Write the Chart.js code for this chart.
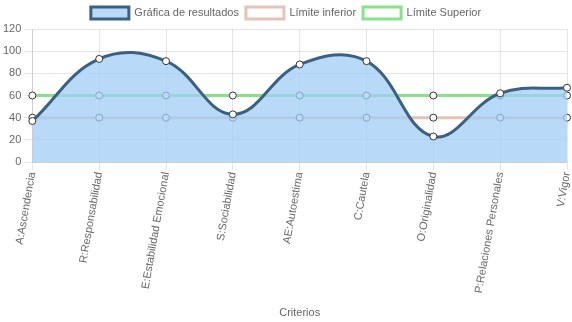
<!DOCTYPE html>
<html>
<head>
<meta charset="utf-8">
<script src="https://cdn.jsdelivr.net/npm/chart.js@4/dist/chart.umd.min.js"></script>
<style>
html,body{margin:0;padding:0;background:#fff;}
#wrap{width:572px;height:322px;}
</style>
</head>
<body>
<div id="wrap"><canvas id="c"></canvas></div>
<script>
const categories = ["A:Ascendencia","R:Responsabilidad","E:Estabilidad Emocional","S:Sociabilidad","AE:Autoestima","C:Cautela","O:Originalidad","P:Relaciones Personales","V:Vigor"];
const resultados = [37, 93, 91, 43, 88, 91, 23, 62, 67];
const limiteInferior = [40, 40, 40, 40, 40, 40, 40, 40, 40];
const limiteSuperior = [60, 60, 60, 60, 60, 60, 60, 60, 60];
const yTicks = [0, 20, 40, 60, 80, 100, 120];

Chart.defaults.font.family = "'Liberation Sans', Arial, sans-serif";
Chart.defaults.font.size = 11;
Chart.defaults.color = '#666';

new Chart(document.getElementById('c'), {
  type: 'line',
  data: {
    labels: categories,
    datasets: [
      {
        label: 'Gráfica de resultados',
        data: resultados,
        backgroundColor: 'rgba(160,205,245,0.75)',
        borderColor: '#3d5f80',
        borderWidth: 3,
        fill: 'origin',
        tension: 0.4,
        pointBackgroundColor: '#fff',
        pointBorderColor: '#333',
        pointBorderWidth: 1,
        pointRadius: 3.5
      },
      {
        label: 'Límite inferior',
        data: limiteInferior,
        backgroundColor: '#fff',
        borderColor: 'rgba(225,190,175,0.9)',
        borderWidth: 3,
        fill: false,
        tension: 0,
        pointBackgroundColor: '#fff',
        pointBorderColor: '#333',
        pointBorderWidth: 1,
        pointRadius: 3.5
      },
      {
        label: 'Límite Superior',
        data: limiteSuperior,
        backgroundColor: '#fff',
        borderColor: 'rgba(130,225,130,0.95)',
        borderWidth: 3,
        fill: false,
        tension: 0,
        pointBackgroundColor: '#fff',
        pointBorderColor: '#333',
        pointBorderWidth: 1,
        pointRadius: 3.5
      }
    ]
  },
  options: {
    responsive: true,
    maintainAspectRatio: false,
    animation: false,
    layout: { padding: { top: 0, right: 0, left: 0, bottom: 2 } },
    plugins: {
      legend: {
        labels: { boxWidth: 38, boxHeight: 12, padding: 7 }
      },
      tooltip: { enabled: false }
    },
    scales: {
      x: {
        offset: false,
        grid: { color: 'rgba(0,0,0,0.1)' },
        ticks: { minRotation: 80, maxRotation: 80, padding: 1 },
        title: { display: true, text: 'Criterios', padding: { top: 3, bottom: 0 } },
        afterFit: (scale) => { scale.paddingRight = 4; scale.height = 158; }
      },
      y: {
        min: 0,
        max: 120,
        afterBuildTicks: (axis) => { axis.ticks = yTicks.map(v => ({ value: v })); },
        grid: { color: 'rgba(0,0,0,0.1)' }
      }
    }
  }
});
</script>
</body>
</html>
